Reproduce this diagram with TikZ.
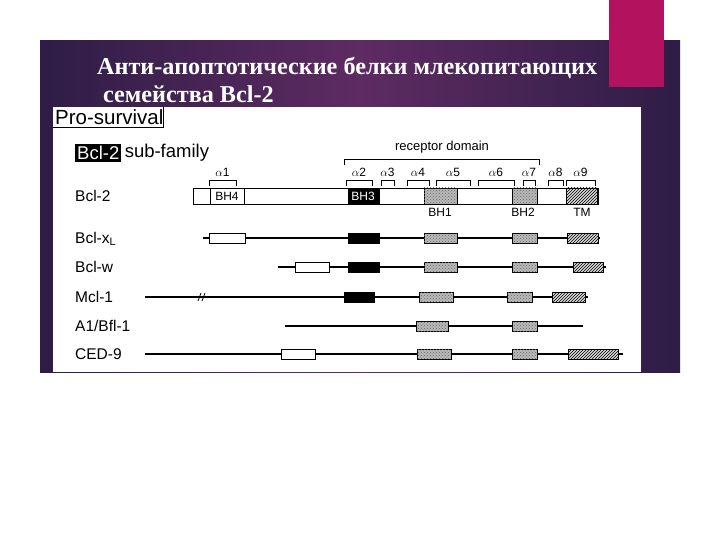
\documentclass[tikz,border=0pt]{standalone}
\usepackage{fontspec}
\setmainfont{Liberation Serif}
\setsansfont{Liberation Sans}
\usepackage{xcolor}
\usetikzlibrary{patterns,positioning,calc}
\definecolor{slidedark}{HTML}{2E1D46}
\definecolor{slidemid}{HTML}{5E2B62}
\definecolor{slidepink}{HTML}{B3125E}
\tikzstyle{rowlabel} = [anchor=west, inner sep=0pt, font=\sffamily\fontsize{15.5}{15.5}\selectfont]
\tikzstyle{helix} = [font=\sffamily\fontsize{12}{12}\selectfont, inner sep=0pt]
\tikzstyle{line} = [line width=1.1pt]
\tikzstyle{openbox} = [draw, fill=white, line width=0.8pt]
\tikzstyle{bhthree} = [draw, fill=black, line width=0.8pt]
\tikzstyle{bhstip} = [draw, fill=gray!55, line width=0.8pt, postaction={pattern=crosshatch dots, pattern color=black!60}]
\tikzstyle{tmhatch} = [draw, fill=gray!30, line width=0.8pt, postaction={pattern=north east lines}]
\tikzstyle{brk} = [line width=0.8pt]
% one domain on a row: style, left, right, row
\newcommand{\dom}[4]{\draw[#1] (#2,#4-5) rectangle (#3,#4+5);}
% helix bracket: left, right, label
\newcommand{\helixbr}[3]{\draw[brk] (#1,186) |- (#2,180) -- (#2,186);
  \node[helix] at ({(#1+#2)/2},172) {#3};}

\begin{document}
\begin{tikzpicture}[x=1pt, y=-1pt]
    \useasboundingbox (0,0) rectangle (720,540);
    \fill[white] (0,0) rectangle (720,540);
    % slide background
    \shade[left color=slidedark, right color=slidedark, middle color=slidemid] (40,41) rectangle (680,372);
    \fill[slidepink] (609,0) rectangle (664,87);
    \node[anchor=base west, inner sep=0pt, text=white, font=\bfseries\fontsize{24.2}{24.2}\selectfont] (title1) at (97,75) {Анти-апоптотические белки млекопитающих};
    \node[anchor=base west, inner sep=0pt, text=white, font=\bfseries\fontsize{24.2}{24.2}\selectfont] (title2) at (103,103) {семейства Bcl-2};
    \fill[white] (53,107) rectangle (641,372);

    % headings
    \node[anchor=west, inner sep=0pt, font=\sffamily\fontsize{20.5}{20.5}\selectfont] (pro) at (55,117) {Pro-survival};
    \draw[line width=0.8pt] (53,127) -| (163,107);
    \node[anchor=west, fill=black, text=white, inner sep=2pt, font=\sffamily\fontsize{18.5}{18.5}\selectfont] (sub) at (75,153) {Bcl-2};
    \node[right=3pt of sub, inner sep=0pt, font=\sffamily\fontsize{18.5}{18.5}\selectfont] (subfam) {sub-family};

    % receptor domain and helices
    \draw[brk] (344,165) |- (539,159) -- (539,165);
    \node[helix, font=\sffamily\fontsize{13}{13}\selectfont] (rec) at (442,147) {receptor domain};
    \helixbr{209}{236}{$\alpha$1}
    \helixbr{346}{372}{$\alpha$2}
    \helixbr{381}{394}{$\alpha$3}
    \helixbr{407}{429}{$\alpha$4}
    \helixbr{436}{470}{$\alpha$5}
    \helixbr{478}{514}{$\alpha$6}
    \helixbr{523}{535}{$\alpha$7}
    \helixbr{548}{563}{$\alpha$8}
    \helixbr{566}{595}{$\alpha$9}

    % Bcl-2 full bar
    \node[rowlabel] (bcl2) at (75,196) {Bcl-2};
    \draw[openbox] (193,188) rectangle (598,204);
    \draw[openbox] (210,188) rectangle (244,204);
    \node[helix] (bh4) at (227,196) {BH4};
    \draw[bhthree] (348,188) rectangle (379,204);
    \node[helix, text=white] (bh3) at (363,196) {BH3};
    \draw[bhstip] (424,188) rectangle (457,204);
    \draw[bhstip] (512,188) rectangle (537,204);
    \draw[tmhatch] (566,188) rectangle (597,204);
    \node[helix] (bh1) at (440,212) {BH1};
    \node[helix] (bh2) at (523,212) {BH2};
    \node[helix] (tm) at (582,212) {TM};

    % Bcl-xL
    \node[rowlabel] (bclx) at (75,239) {Bcl-x\textsubscript{L}};
    \coordinate (xa) at (203,238); \coordinate (xb) at (600,238);
    \draw[line] (xa) -- (xb);
    \dom{openbox}{209}{245}{238}
    \dom{bhthree}{348}{379}{238}
    \dom{bhstip}{424}{457}{238}
    \dom{bhstip}{512}{537}{238}
    \dom{tmhatch}{567}{598}{238}

    % Bcl-w
    \node[rowlabel] (bclw) at (75,267) {Bcl-w};
    \coordinate (wa) at (278,267); \coordinate (wb) at (606,267);
    \draw[line] (wa) -- (wb);
    \dom{openbox}{295}{329}{267}
    \dom{bhthree}{348}{379}{267}
    \dom{bhstip}{424}{457}{267}
    \dom{bhstip}{512}{537}{267}
    \dom{tmhatch}{573}{603}{267}

    % Mcl-1
    \node[rowlabel] (mcl) at (75,297) {Mcl-1};
    \coordinate (ma) at (145,297); \coordinate (mb) at (588,297);
    \draw[line] (ma) -- (mb);
    \draw[brk] (198,301) -- (201,293);
    \draw[brk] (202,301) -- (205,293);
    \dom{bhthree}{344}{374}{297}
    \dom{bhstip}{419}{453}{297}
    \dom{bhstip}{507}{532}{297}
    \dom{tmhatch}{552}{585}{297}

    % A1/Bfl-1
    \node[rowlabel] (afl) at (75,326) {A1/Bfl-1};
    \coordinate (aa) at (285,326); \coordinate (ab) at (583,326);
    \draw[line] (aa) -- (ab);
    \dom{bhstip}{416}{448}{326}
    \dom{bhstip}{512}{537}{326}

    % CED-9
    \node[rowlabel] (ced) at (75,354) {CED-9};
    \coordinate (ca) at (145,354); \coordinate (cb) at (623,354);
    \draw[line width=1.5pt] (ca) -- (cb);
    \dom{openbox}{281}{315}{354}
    \dom{bhstip}{417}{451}{354}
    \dom{bhstip}{512}{537}{354}
    \dom{tmhatch}{568}{618}{354}
\end{tikzpicture}
\end{document}
